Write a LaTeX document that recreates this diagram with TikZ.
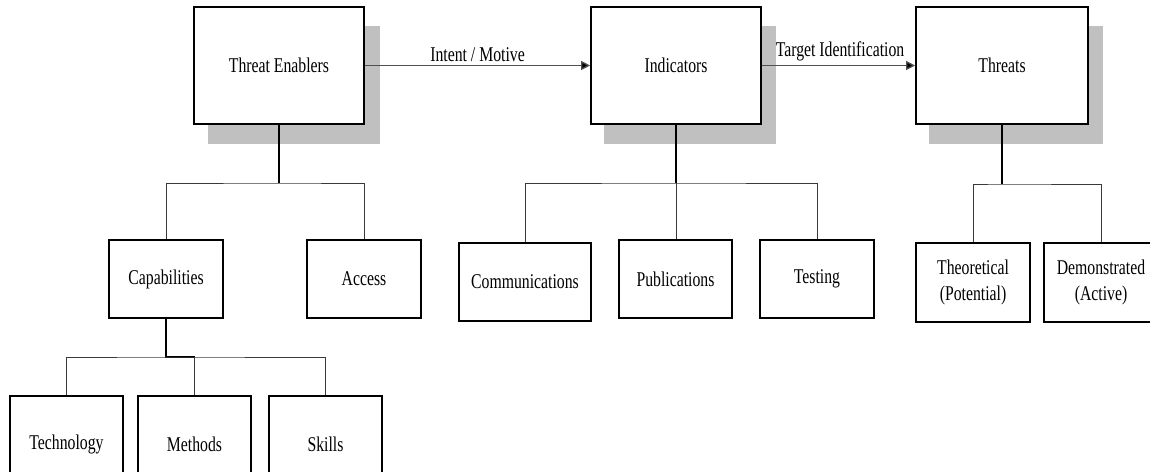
\documentclass[tikz,border=0pt]{standalone}
\usepackage{fontspec}
\setmainfont{Liberation Serif}[FakeStretch=0.75]
\usetikzlibrary{arrows.meta,backgrounds}
\definecolor{shadowgray}{HTML}{C0C0C0}
\definecolor{linegray}{HTML}{3A3A3A}
\definecolor{arrowgray}{HTML}{505050}
\begin{document}
\begin{tikzpicture}[x=1pt,y=-1pt,
  box/.style={draw=black, line width=1.7pt, fill=white, inner sep=0pt, align=center, font=\fontsize{21}{26}\selectfont},
  big/.style={box, minimum width=170pt, minimum height=117pt},
  small/.style={box, minimum width=114pt, minimum height=78pt},
  conn/.style={draw=linegray, line width=0.9pt},
  trunk/.style={draw=black, line width=1.5pt},
  arr/.style={draw=arrowgray, line width=1.3pt, -{Triangle[length=9pt,width=9pt,fill=black]}},
  lbl/.style={font=\fontsize{21}{26}\selectfont, inner sep=0pt, anchor=base},
  shadowbox/.style={fill=shadowgray}]
\useasboundingbox (0,0) rectangle (1150,471);
\clip (0,0) rectangle (1150,471);

% main boxes
\node[big] (te) at (279,65.5) {Threat Enablers};
\node[big] (ind) at (676,65.5) {Indicators};
\node[big, minimum width=172pt] (thr) at (1002,65.5) {Threats};

% shadows
\begin{scope}[on background layer]
  \fill[shadowbox] ([shift={(15,19.5)}]te.south west) rectangle ([shift={(15,19.5)}]te.north east);
  \fill[shadowbox] ([shift={(14,19.5)}]ind.south west) rectangle ([shift={(14,19.5)}]ind.north east);
  \fill[shadowbox] ([shift={(14,19.5)}]thr.south west) rectangle ([shift={(14,19.5)}]thr.north east);
\end{scope}

% second level
\node[small] (cap) at (166,279) {Capabilities};
\node[small] (acc) at (364,279) {Access};
\node[small, minimum width=132pt] (com) at (525,282) {Communications};
\node[small, minimum width=113pt] (pub) at (675.5,279) {Publications};
\node[small] (tes) at (817,279) {Testing};
\node[small, minimum height=79pt] (theo) at (973,282.5) {Theoretical\\(Potential)};
\node[small, minimum height=79pt] (dem) at (1101,282.5) {Demonstrated\\(Active)};

% third level
\node[small, minimum width=113pt, minimum height=96pt] (tech) at (66.5,444) {Technology};
\node[small, minimum width=113pt, minimum height=96pt] (meth) at (194.5,444) {Methods};
\node[small, minimum width=113pt, minimum height=96pt] (sk) at (325.5,444) {Skills};

% junctions
\coordinate (j1) at (279,183);
\coordinate (j2) at (166,357);
\coordinate (j3) at (676,183);
\coordinate (j4) at (1002,184);

% tree connectors
\draw[trunk] (te.south) -- (j1);
\draw[conn] (cap.north) |- (j1) -| (acc.north);
\draw[trunk] (cap.south) -- (j2) -- (j2 -| meth.north);
\draw[conn] (tech.north) |- (j2) -| (sk.north);
\draw[conn] (j2 -| meth.north) -- (meth.north);
\draw[trunk] (ind.south) -- (j3);
\draw[conn] (com.north) |- (j3) -| (tes.north);
\draw[conn] (j3) -- (j3 |- pub.north);
\draw[conn, line width=1.1pt, draw=black] (thr.south) -- (j4);
\draw[conn] (theo.north) |- (j4) -| (dem.north);

% arrows
\draw[arr] (te.east) -- node[lbl, midway, yshift=4.5pt] {Intent / Motive} (ind.west);
\draw[arr] (ind.east) -- node[lbl, midway, xshift=1.5pt, yshift=9pt] {Target Identification} (thr.west);
\end{tikzpicture}
\end{document}
